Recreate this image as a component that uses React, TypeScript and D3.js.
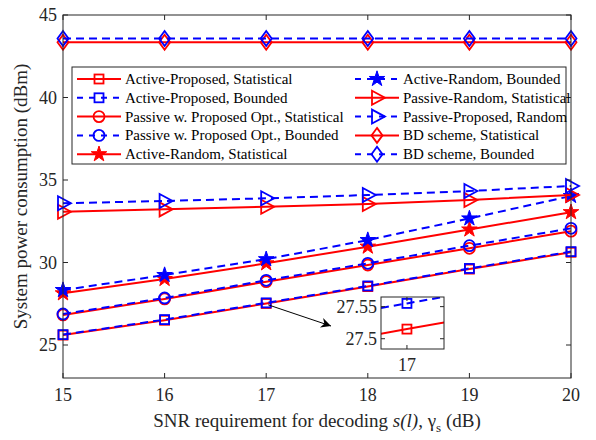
import * as d3 from "d3";
import { useEffect, useRef } from "react";

// SNR requirement (dB)
const snr = [15, 16, 17, 18, 19, 20];

// system power consumption (dBm)
const activePropStat = [25.6, 26.5, 27.515, 28.54, 29.6, 30.62];
const activePropBound = [25.63, 26.54, 27.555, 28.58, 29.64, 30.66];
const passivePropStat = [26.82, 27.79, 28.84, 29.85, 30.86, 31.9];
const passivePropBound = [26.88, 27.85, 28.92, 29.95, 31.02, 32.07];
const activeRandStat = [28.13, 29.0, 29.95, 30.96, 32.0, 33.05];
const activeRandBound = [28.33, 29.24, 30.2, 31.36, 32.67, 34.03];
const passiveRandStat = [33.08, 33.22, 33.38, 33.55, 33.79, 34.09];
const passiveRandRandom = [33.59, 33.73, 33.89, 34.09, 34.33, 34.64];
const bdStat = [43.35, 43.35, 43.35, 43.35, 43.35, 43.35];
const bdBound = [43.58, 43.58, 43.58, 43.58, 43.58, 43.58];

const xTicks = [15, 16, 17, 18, 19, 20];
const yTicks = [25, 30, 35, 40, 45];
const insetYTicks = [27.5, 27.55];
const insetXTicks = [17];

const RED = "#ff0000";
const BLUE = "#0000ff";

const series = [
  { name: "Active-Proposed, Statistical", values: activePropStat, color: RED, dash: false, marker: "square" },
  { name: "Active-Proposed, Bounded", values: activePropBound, color: BLUE, dash: true, marker: "square" },
  { name: "Passive w. Proposed Opt., Statistical", values: passivePropStat, color: RED, dash: false, marker: "circle" },
  { name: "Passive w. Proposed Opt., Bounded", values: passivePropBound, color: BLUE, dash: true, marker: "circle" },
  { name: "Active-Random, Statistical", values: activeRandStat, color: RED, dash: false, marker: "star" },
  { name: "Active-Random, Bounded", values: activeRandBound, color: BLUE, dash: true, marker: "star" },
  { name: "Passive-Random, Statistical", values: passiveRandStat, color: RED, dash: false, marker: "triangle" },
  { name: "Passive-Proposed, Random", values: passiveRandRandom, color: BLUE, dash: true, marker: "triangle" },
  { name: "BD scheme, Statistical", values: bdStat, color: RED, dash: false, marker: "diamond" },
  { name: "BD scheme, Bounded", values: bdBound, color: BLUE, dash: true, marker: "diamond" },
];

const FONT = "'Liberation Serif', 'Times New Roman', serif";

const drawMarker = (g, kind, x, y, color) => {
  if (kind === "square") {
    g.append("rect").attr("x", x - 4.5).attr("y", y - 4.5).attr("width", 9).attr("height", 9)
      .attr("fill", "none").attr("stroke", color).attr("stroke-width", 1.8);
  } else if (kind === "circle") {
    g.append("circle").attr("cx", x).attr("cy", y).attr("r", 5.5)
      .attr("fill", "none").attr("stroke", color).attr("stroke-width", 1.8);
  } else if (kind === "star") {
    g.append("path").attr("d", d3.symbol(d3.symbolStar, 75)()).attr("transform", `translate(${x},${y})`)
      .attr("fill", color).attr("stroke", color).attr("stroke-width", 1);
  } else if (kind === "triangle") {
    g.append("path").attr("d", `M${x - 5},${y - 7}L${x + 8},${y}L${x - 5},${y + 7}Z`)
      .attr("fill", "none").attr("stroke", color).attr("stroke-width", 1.8);
  } else if (kind === "diamond") {
    g.append("path").attr("d", `M${x},${y - 7.5}L${x + 5.5},${y}L${x},${y + 7.5}L${x - 5.5},${y}Z`)
      .attr("fill", "none").attr("stroke", color).attr("stroke-width", 1.8);
  }
};

const App = () => {
  const ref = useRef(null);

  useEffect(() => {
    const svg = d3.select(ref.current);
    svg.selectAll("*").remove();

    const left = 63, right = 571, top = 15, bottom = 378;
    const x = d3.scaleLinear().domain([15, 20]).range([left, right]);
    const y = d3.scaleLinear().domain([23, 45]).range([bottom, top]);

    svg.append("rect").attr("width", 596).attr("height", 440).attr("fill", "white");

    // lines and markers
    const plot = svg.append("g");
    series.forEach((s) => {
      const line = d3.line().x((d, i) => x(snr[i])).y((d) => y(d));
      plot.append("path").datum(s.values).attr("d", line)
        .attr("fill", "none").attr("stroke", s.color).attr("stroke-width", 2)
        .attr("stroke-dasharray", s.dash ? "8,5" : null);
      s.values.forEach((v, i) => drawMarker(plot, s.marker, x(snr[i]), y(v), s.color));
    });

    // axes box with inward ticks
    const axis = svg.append("g").attr("stroke", "#262626").attr("stroke-width", 1);
    axis.append("rect").attr("x", left).attr("y", top).attr("width", right - left).attr("height", bottom - top)
      .attr("fill", "none");
    xTicks.forEach((t) => {
      axis.append("line").attr("x1", x(t)).attr("x2", x(t)).attr("y1", bottom).attr("y2", bottom - 5);
      axis.append("line").attr("x1", x(t)).attr("x2", x(t)).attr("y1", top).attr("y2", top + 5);
    });
    yTicks.forEach((t) => {
      axis.append("line").attr("x1", left).attr("x2", left + 5).attr("y1", y(t)).attr("y2", y(t));
      axis.append("line").attr("x1", right).attr("x2", right - 5).attr("y1", y(t)).attr("y2", y(t));
    });

    const labels = svg.append("g").attr("font-family", FONT).attr("fill", "#262626").attr("font-size", 18);
    xTicks.forEach((t) => {
      labels.append("text").attr("x", x(t)).attr("y", bottom + 23).attr("text-anchor", "middle").text(t);
    });
    yTicks.forEach((t) => {
      labels.append("text").attr("x", left - 6).attr("y", y(t) + 6).attr("text-anchor", "end").text(t);
    });

    // axis titles
    const xt = svg.append("text").attr("x", 317).attr("y", 427).attr("text-anchor", "middle")
      .attr("font-family", FONT).attr("font-size", 19).attr("fill", "#262626");
    xt.append("tspan").text("SNR requirement for decoding ");
    xt.append("tspan").attr("font-style", "italic").text("s(l)");
    xt.append("tspan").text(", \u03b3");
    xt.append("tspan").attr("font-size", 13).attr("dy", 5).text("s");
    xt.append("tspan").attr("dy", -5).text(" (dB)");

    svg.append("text").attr("transform", `translate(27,${(top + bottom) / 2}) rotate(-90)`)
      .attr("text-anchor", "middle").attr("font-family", FONT).attr("font-size", 19).attr("fill", "#262626")
      .text("System power consumption (dBm)");

    // legend
    const lg = svg.append("g");
    lg.append("rect").attr("x", 72).attr("y", 67).attr("width", 494).attr("height", 97)
      .attr("fill", "white").attr("stroke", "#262626").attr("stroke-width", 1);
    series.forEach((s, i) => {
      const col = i < 5 ? 0 : 1;
      const row = i % 5;
      const lx = col === 0 ? 77 : 355;
      const ly = 79 + row * 18.8;
      lg.append("line").attr("x1", lx).attr("x2", lx + 44).attr("y1", ly).attr("y2", ly)
        .attr("stroke", s.color).attr("stroke-width", 2).attr("stroke-dasharray", s.dash ? "6,6" : null);
      drawMarker(lg, s.marker, lx + 22, ly, s.color);
      lg.append("text").attr("x", lx + 48).attr("y", ly + 5).attr("font-family", FONT).attr("font-size", 15)
        .attr("fill", "black").text(s.name);
    });

    // arrow to inset
    const defs = svg.append("defs");
    defs.append("marker").attr("id", "arrowhead").attr("viewBox", "0 0 10 10").attr("refX", 10).attr("refY", 5)
      .attr("markerWidth", 14).attr("markerHeight", 10).attr("markerUnits", "userSpaceOnUse").attr("orient", "auto")
      .append("path").attr("d", "M0,0L10,5L0,10L3,5Z").attr("fill", "black");
    svg.append("line").attr("x1", x(17) + 2).attr("y1", y(activePropBound[2]) + 2).attr("x2", 331).attr("y2", 326)
      .attr("stroke", "black").attr("stroke-width", 1).attr("marker-end", "url(#arrowhead)");

    // inset
    const il = 381, ir = 444, it = 297, ib = 349;
    const ix = d3.scaleLinear().domain([16.993, 17.01]).range([il, ir]);
    const iy = d3.scaleLinear().domain([27.484, 27.565]).range([ib, it]);
    svg.append("defs").append("clipPath").attr("id", "insetclip")
      .append("rect").attr("x", il).attr("y", it).attr("width", ir - il).attr("height", ib - it);
    const inset = svg.append("g");
    inset.append("rect").attr("x", il).attr("y", it).attr("width", ir - il).attr("height", ib - it).attr("fill", "white");
    const ig = inset.append("g").attr("clip-path", "url(#insetclip)");
    [series[0], series[1]].forEach((s) => {
      const line = d3.line().x((d, i) => ix(snr[i])).y((d) => iy(d));
      ig.append("path").datum(s.values).attr("d", line)
        .attr("fill", "none").attr("stroke", s.color).attr("stroke-width", 2)
        .attr("stroke-dasharray", s.dash ? "8,5" : null);
      s.values.forEach((v, i) => drawMarker(ig, s.marker, ix(snr[i]), iy(v), s.color));
    });
    inset.append("rect").attr("x", il).attr("y", it).attr("width", ir - il).attr("height", ib - it)
      .attr("fill", "none").attr("stroke", "#262626").attr("stroke-width", 1);
    insetYTicks.forEach((t) => {
      inset.append("line").attr("x1", il).attr("x2", il + 4).attr("y1", iy(t)).attr("y2", iy(t)).attr("stroke", "#262626");
      inset.append("line").attr("x1", ir).attr("x2", ir - 4).attr("y1", iy(t)).attr("y2", iy(t)).attr("stroke", "#262626");
      inset.append("text").attr("x", il - 4).attr("y", iy(t) + 6).attr("text-anchor", "end")
        .attr("font-family", FONT).attr("font-size", 18).attr("fill", "#262626").text(t);
    });
    insetXTicks.forEach((t) => {
      inset.append("line").attr("x1", ix(t)).attr("x2", ix(t)).attr("y1", ib).attr("y2", ib - 4).attr("stroke", "#262626");
      inset.append("line").attr("x1", ix(t)).attr("x2", ix(t)).attr("y1", it).attr("y2", it + 4).attr("stroke", "#262626");
      inset.append("text").attr("x", ix(t)).attr("y", ib + 22).attr("text-anchor", "middle")
        .attr("font-family", FONT).attr("font-size", 18).attr("fill", "#262626").text(t);
    });
  }, []);

  return <svg ref={ref} width={596} height={440} style={{ position: "absolute", left: 0, top: 0 }}></svg>;
};

export default App;
